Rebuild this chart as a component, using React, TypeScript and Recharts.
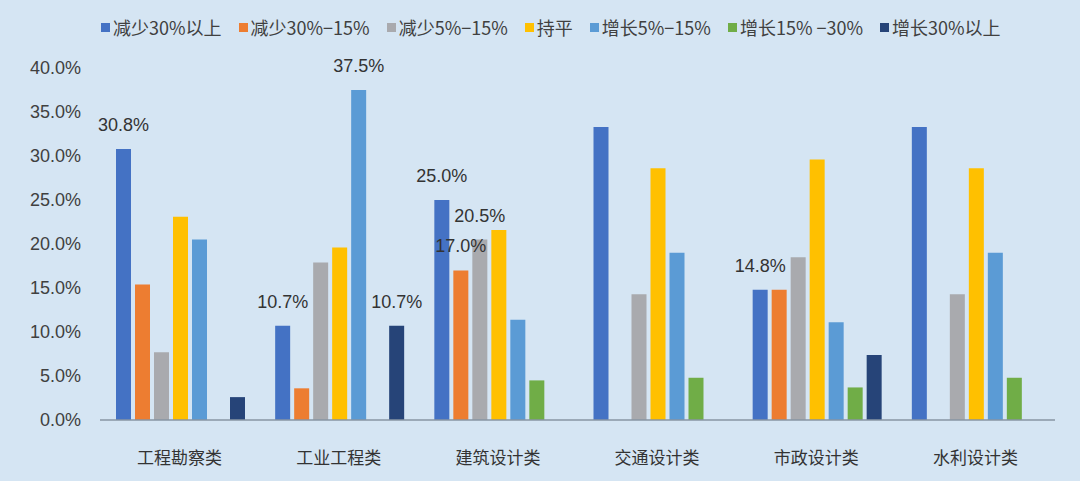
import { Bar, BarChart, LabelList, Legend, XAxis, YAxis } from "recharts";

const categories = ["工程勘察类", "工业工程类", "建筑设计类", "交通设计类", "市政设计类", "水利设计类"];

const seriesNames = [
  "减少30%以上",
  "减少30%−15%",
  "减少5%−15%",
  "持平",
  "增长5%−15%",
  "增长15% −30%",
  "增长30%以上",
];

const dec30Plus = [30.8, 10.7, 25.0, 33.3, 14.8, 33.3];
const dec15to30 = [15.4, 3.6, 17.0, 0, 14.8, 0];
const dec5to15 = [7.7, 17.9, 20.5, 14.3, 18.5, 14.3];
const flat = [23.1, 19.6, 21.6, 28.6, 29.6, 28.6];
const inc5to15 = [20.5, 37.5, 11.4, 19.0, 11.1, 19.0];
const inc15to30 = [0, 0, 4.5, 4.8, 3.7, 4.8];
const inc30Plus = [2.6, 10.7, 0, 0, 7.4, 0];

// which category indices get a value label, per series
const labelsDec30Plus = [0, 1, 2, 4];
const labelsDec15to30 = [2];
const labelsDec5to15 = [2];
const labelsInc5to15 = [1];
const labelsInc30Plus = [1];

const yTicks = [0, 5, 10, 15, 20, 25, 30, 35, 40];

const colors = ["#4472C4", "#ED7D31", "#A9AAAE", "#FFC000", "#5B9BD5", "#70AD47", "#264478"];

const seriesValues = [dec30Plus, dec15to30, dec5to15, flat, inc5to15, inc15to30, inc30Plus];
const seriesLabels = [labelsDec30Plus, labelsDec15to30, labelsDec5to15, [], labelsInc5to15, [], labelsInc30Plus];

const data = categories.map((name, i) => {
  const row: Record<string, string | number> = { name };
  seriesValues.forEach((vals, s) => {
    row["s" + s] = vals[i];
  });
  return row;
});

const latin = "'Liberation Sans', Arial, sans-serif";
const cjk = "'Noto Sans CJK SC', sans-serif";

function makeLabel(indices: number[]) {
  return (props: any) => {
    const { x, y, width, value, index } = props;
    if (!indices.includes(index)) return null;
    return (
      <text
        x={Number(x) + Number(width) / 2}
        y={Number(y) - 18}
        textAnchor="middle"
        fontSize={18}
        fontFamily={latin}
        fill="#333"
      >
        {Number(value).toFixed(1)}%
      </text>
    );
  };
}

function LegendContent() {
  return (
    <div style={{ display: "flex", height: 28, alignItems: "center", paddingLeft: 101 }}>
      {seriesNames.map((n, i) => (
        <div key={n} style={{ display: "flex", alignItems: "center", marginRight: 17 }}>
          <span style={{ width: 9, height: 9, background: colors[i], marginRight: 3, display: "inline-block" }} />
          <span style={{ fontFamily: cjk, fontSize: 18, color: "#404040", whiteSpace: "pre" }}>{n}</span>
        </div>
      ))}
    </div>
  );
}

export default function App() {
  return (
    <div style={{ position: "absolute", left: 0, top: 0, width: 1080, height: 481, background: "#d5e5f3" }}>
      <BarChart
        width={1080}
        height={481}
        data={data}
        margin={{ top: 40, right: 25, left: 0, bottom: 0 }}
        barCategoryGap={16}
        barGap={4}
      >
        <Legend
          verticalAlign="top"
          content={<LegendContent />}
          wrapperStyle={{ top: 13, left: 0, width: 1080 }}
        />
        <XAxis
          dataKey="name"
          tickLine={false}
          tickSize={0}
          tickMargin={32}
          height={61}
          axisLine={{ stroke: "#8795a3", strokeWidth: 1.5 }}
          tick={{ fontSize: 17, fontFamily: cjk, fill: "#333" }}
          interval={0}
        />
        <YAxis
          domain={[0, 40]}
          ticks={yTicks}
          width={100}
          axisLine={false}
          tickLine={false}
          tickSize={0}
          tickMargin={19}
          tickFormatter={(v: number) => v.toFixed(1) + "%"}
          tick={{ fontSize: 18, fontFamily: latin, fill: "#404040" }}
        />
        {seriesNames.map((n, s) => (
          <Bar key={n} dataKey={"s" + s} name={n} fill={colors[s]} isAnimationActive={false}>
            {seriesLabels[s].length > 0 && (
              <LabelList dataKey={"s" + s} content={makeLabel(seriesLabels[s])} />
            )}
          </Bar>
        ))}
      </BarChart>
    </div>
  );
}
